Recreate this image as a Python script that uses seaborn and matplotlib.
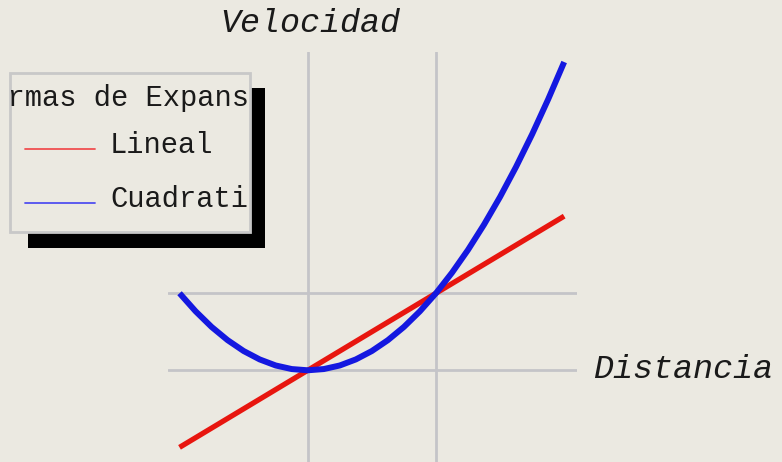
import numpy as np
import pandas as pd
import matplotlib
matplotlib.use("Agg")
import matplotlib.pyplot as plt
from matplotlib.patches import Rectangle
from matplotlib.lines import Line2D
import seaborn as sns

# valores
distancia = [-1, -0.875, -0.75, -0.625, -0.5, -0.375, -0.25, -0.125, 0,
             0.125, 0.25, 0.375, 0.5, 0.625, 0.75, 0.875, 1,
             1.125, 1.25, 1.375, 1.5, 1.625, 1.75, 1.875, 2]
lineal = [-1, -0.875, -0.75, -0.625, -0.5, -0.375, -0.25, -0.125, 0,
          0.125, 0.25, 0.375, 0.5, 0.625, 0.75, 0.875, 1,
          1.125, 1.25, 1.375, 1.5, 1.625, 1.75, 1.875, 2]
cuadratico = [1, 0.766, 0.5625, 0.391, 0.25, 0.141, 0.0625, 0.016, 0,
              0.016, 0.0625, 0.141, 0.25, 0.391, 0.5625, 0.766, 1,
              1.266, 1.5625, 1.891, 2.25, 2.641, 3.0625, 3.516, 4]
series = ["Lineal", "Cuadratico"]
grid_x = [0, 1]
grid_y = [0, 1]

df = pd.DataFrame({
    "Distancia": distancia * 2,
    "Velocidad": lineal + cuadratico,
    "serie": [series[0]] * len(lineal) + [series[1]] * len(cuadratico),
})

W, H = 782, 462
bg = "#ecead2"
bg = "#ebe9e1"
mono = ["Liberation Mono", "DejaVu Sans Mono"]
ink = "#1a1a1a"

sns.set_style("white")
plt.rcParams["font.family"] = mono

fig = plt.figure(figsize=(W / 100, H / 100), dpi=100)
fig.patch.set_facecolor(bg)

ax = fig.add_axes([168 / W, 0, (577 - 168) / W, (462 - 52) / H])
ax.set_facecolor(bg)

sns.lineplot(data=df, x="Distancia", y="Velocidad", hue="serie",
             palette={"Lineal": "#e8160f", "Cuadratico": "#1418e0"},
             linewidth=4.3, legend=False, ax=ax, sort=False)
ax.lines[0].set_linewidth(3.8)
for ln in ax.lines:
    ln.set_solid_capstyle("butt")
    ln.set_solid_joinstyle("round")
ax.lines[1].set_zorder(4)
ax.lines[0].set_zorder(3)

ax.set_xlim(-1.09, 2.10)
ax.set_ylim(-1.19, 4.13)
ax.set_xticks(grid_x)
ax.set_yticks(grid_y)
ax.set_xticklabels([])
ax.set_yticklabels([])
ax.tick_params(length=0)
ax.grid(True, color="#c4c4c8", linewidth=2.0)
ax.set_xlabel("")
ax.set_ylabel("")
sns.despine(ax=ax, left=True, bottom=True)

# etiquetas de ejes
fig.text(310 / W, 1 - 23 / H, "Velocidad", ha="center", va="center",
         fontsize=24, style="italic", family=mono, color=ink)
fig.text(593 / W, 1 - 369 / H, "Distancia", ha="left", va="center",
         fontsize=24, style="italic", family=mono, color=ink)

# leyenda con sombra
def fig_rect(x0, y0, x1, y1, **kw):
    return Rectangle((x0 / W, 1 - y1 / H), (x1 - x0) / W, (y1 - y0) / H,
                     transform=fig.transFigure, **kw)

shadow = fig_rect(28, 88, 265, 248, facecolor="black", edgecolor="none", zorder=5)
box = fig_rect(10, 73, 250, 232, facecolor=bg, edgecolor="#c8c8c8",
               linewidth=2, zorder=6)
fig.add_artist(shadow)
fig.add_artist(box)

clip = fig_rect(11, 74, 248, 231, facecolor="none", edgecolor="none")

t = fig.text(137 / W, 1 - 98 / H, "Formas de Expansión", ha="center", va="center",
             fontsize=20.7, family=mono, color=ink, zorder=7)
t.set_clip_path(clip)

colores_leyenda = ["#f05050", "#5050f0"]
for i, (nombre, col) in enumerate(zip(series, colores_leyenda)):
    yy = [149, 203][i]
    fig.add_artist(Line2D([25 / W, 95 / W], [1 - yy / H] * 2,
                          transform=fig.transFigure, color=col,
                          linewidth=1.3, zorder=7))
    tx = fig.text(110 / W, 1 - (yy - 4) / H, nombre, ha="left", va="center",
                  fontsize=20.7, family=mono, color=ink, zorder=7)
    tx.set_clip_path(clip)

fig.savefig("out.png", dpi=100, facecolor=bg)
